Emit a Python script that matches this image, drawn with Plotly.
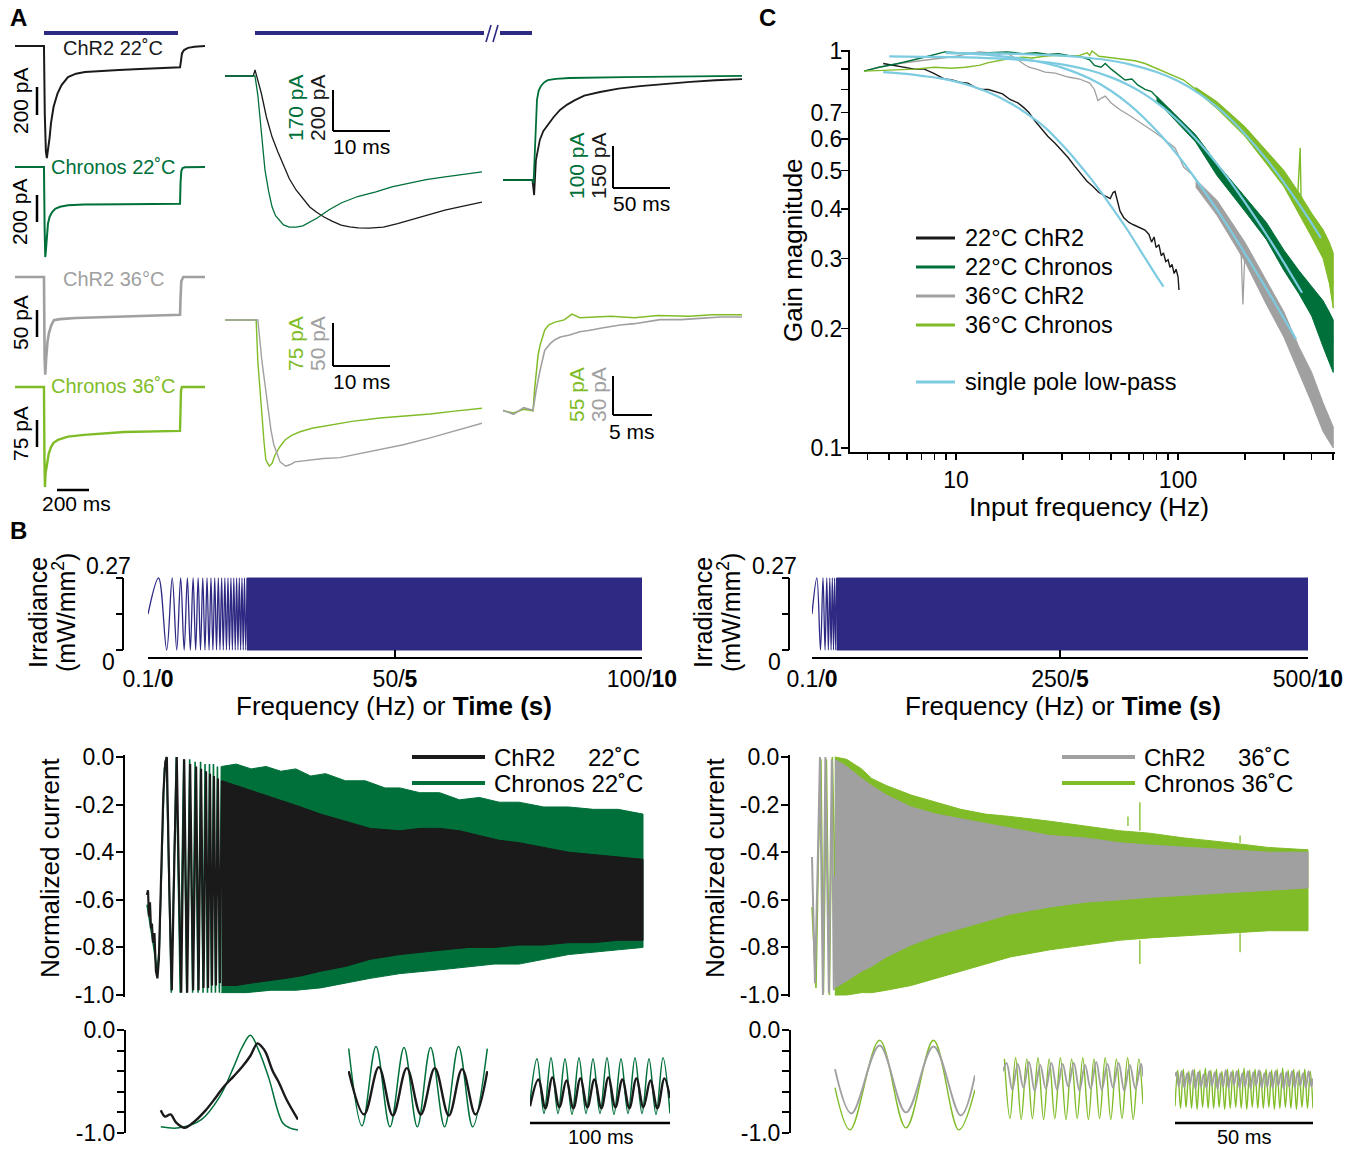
import plotly.graph_objects as go

W, H = 1360, 1149
FONT = "Liberation Sans, Arial, Helvetica, sans-serif"
BLUE, BLACK, DGREEN, GRAY, LGREEN, CYAN = "#2E2A84", "#1A1A1A", "#00703A", "#A0A0A0", "#80BC28", "#7CCBE0"

# ======================= DATA =======================
# ---- Panel A, whole light pulse (time ms, current pA) ----
A_chr2_22 = [(-181, 0), (0, 0), (5, -500), (12, -780), (18, -830), (25, -780), (35, -680), (44, -570), (60, -450),
             (85, -350), (110, -290), (150, -230), (200, -205), (256, -193), (350, -185), (468, -178), (600, -170),
             (750, -162), (850, -158), (856, -110), (862, -55), (875, -30), (900, -14), (940, -5), (1006, 0)]
A_chronos_22 = [(-181, 0), (0, 0), (4, -450), (8, -667), (12, -620), (18, -500), (25, -420), (35, -370), (50, -335),
                (70, -310), (100, -295), (150, -283), (250, -277), (500, -275), (850, -272), (853, -120), (858, -30),
                (866, -8), (880, -2), (1006, 0)]
A_chr2_36 = [(-181, 0), (0, 0), (4, -150), (8, -181), (14, -150), (22, -120), (31, -104), (45, -90), (62, -80),
             (100, -78), (200, -76), (400, -74), (600, -72), (850, -70), (853, -40), (858, -8), (870, 0), (1006, 0)]
A_chronos_36 = [(-181, 0), (0, 0), (3, -200), (6, -278), (10, -240), (19, -211), (30, -185), (44, -167), (60, -155),
                (87, -147), (150, -138), (250, -133), (500, -125), (850, -122), (852, -60), (856, -10), (862, 0), (1006, 0)]
# ---- Panel A, onset (ms, pA) ----
A_on_chr2_22 = [(-5.26, 0), (-0.3, 0), (0, 30), (0.3, 0), (1.1, -83), (2, -200), (3, -298), (4, -370), (4.8, -424),
                (6, -500), (7.2, -556), (8.4, -600), (9.6, -639), (10.8, -665), (12.1, -688), (13.5, -708),
                (15.1, -727), (16.6, -736), (18.1, -741), (20, -742), (22.5, -737), (25, -720), (27.2, -702),
                (30, -680), (33.3, -654), (36.5, -635), (39.8, -615)]
A_on_chronos_22 = [(-5.26, 0), (0, 0), (0.5, -80), (0.9, -183), (1.3, -290), (1.75, -390), (2.4, -480), (3, -544),
                   (3.6, -580), (4.2, -598), (5, -618), (6, -627), (7.2, -627), (8.4, -622), (9.6, -606), (10.9, -589),
                   (13, -555), (15.1, -527), (18, -500), (21.2, -481), (24, -460), (27.2, -444), (30, -430),
                   (33.3, -419), (36.5, -408), (39.8, -398)]
A_on_chronos_36 = [(-5.26, 0), (0, 0), (0.2, 0), (0.5, -73), (0.9, -130), (1.2, -175), (1.6, -215), (1.9, -244),
                   (2.5, -255), (3, -250), (3.5, -236), (4.3, -222), (5.3, -209), (6.5, -201), (7.9, -195), (10, -189),
                   (13.2, -183), (17, -177), (21.9, -171), (26, -168), (30.7, -164), (35, -159), (39.8, -154)]
A_on_chr2_36 = [(-5.26, 0), (0, 0), (0.5, 0), (1.2, -47), (1.8, -78), (2.3, -105), (2.8, -128), (3.3, -145),
                (3.9, -157), (4.4, -165), (5.4, -170), (6.2, -168), (7, -165), (8.5, -164), (9.6, -163), (12, -161),
                (14.9, -160), (18, -156), (21.9, -151), (26, -145), (30.7, -137), (35, -129), (39.8, -120)]
# ---- Panel A, offset (ms, pA) ----
A_off_chr2_22 = [(-26.3, -364), (-0.5, -364), (0.5, -400), (1, -418), (2.6, -293), (6, -221), (9, -190), (13, -168),
                 (18, -140), (23.7, -114), (30, -95), (36.8, -79), (45, -63), (58.8, -50), (75, -38), (94, -29),
                 (115, -21), (138, -14), (160, -8), (183.3, -4)]
A_off_chronos_22 = [(-26.3, -243), (-0.5, -243), (0.5, -250), (1.2, -200), (1.75, -148), (2.6, -95), (3.5, -52),
                    (5, -30), (7, -19), (10, -10), (13, -5), (20, -2), (32, 0), (80, 2), (183.3, 5)]
A_off_chronos_36 = [(-3.85, -129), (-2.5, -132), (-1.2, -127), (0, -129), (0.2, -100), (0.4, -73), (0.65, -52),
                    (0.9, -39), (1.2, -28), (1.5, -18), (2, -11), (2.8, -7), (4, -4), (5, 4), (6, -1), (8, 0), (10, 1),
                    (13, -1), (16, 2), (20, 1), (23, 3), (26.8, 3)]
A_off_chr2_36 = [(-3.85, -70), (-2.5, -73), (-1.2, -68), (0, -70), (0.4, -55), (0.9, -40), (1.5, -25), (2.2, -20),
                 (2.8, -17), (3.5, -15), (4.7, -13.5), (6, -11), (7.3, -10), (9, -8), (11.2, -6), (13, -5),
                 (16.3, -2), (19, -2), (21.4, -1), (24, 0), (26.8, 0)]

# ---- Panel B, stimulus (time s, irradiance mW/mm2) ----
IRR_MAX = 0.27
IRR_MID = 0.135
irr_L_ext_t = [0.214, 0.378, 0.490, 0.582, 0.661, 0.732, 0.797, 0.857, 0.913, 0.965, 1.015, 1.063, 1.109, 1.153,
               1.195, 1.236, 1.275, 1.314, 1.351, 1.387, 1.423, 1.457, 1.491, 1.524, 1.556, 1.588, 1.619, 1.649,
               1.679, 1.708, 1.737, 1.766, 1.794, 1.821, 1.848, 1.875, 1.902, 1.928, 1.953, 1.979, 2.004]
irr_L_dense = [2.004, 10.0]
irr_R_ext_t = [0.098, 0.171, 0.222, 0.263, 0.298, 0.330, 0.359, 0.385, 0.410, 0.434, 0.456, 0.478, 0.498]
irr_R_dense = [0.498, 10.0]

# ---- Panel B, normalized current, 22 C (time s, normalized current) ----
chr2_22_early = [(0.00, -0.58), (0.02, -0.56), (0.04, -0.67), (0.06, -0.61), (0.08, -0.72), (0.10, -0.70),
                 (0.12, -0.78), (0.15, -0.74), (0.18, -0.90), (0.21, -0.93), (0.24, -0.85), (0.28, -0.55),
                 (0.33, -0.15), (0.37, -0.02), (0.40, 0.0), (0.45, -0.55), (0.50, -0.98), (0.55, -0.45),
                 (0.60, 0.0), (0.65, -0.60), (0.69, -0.99), (0.75, -0.01), (0.81, -0.99), (0.87, -0.03),
                 (0.93, -0.98), (0.99, -0.04), (1.04, -0.98), (1.09, -0.05), (1.14, -0.97), (1.19, -0.06),
                 (1.23, -0.97), (1.27, -0.07), (1.31, -0.96), (1.35, -0.08), (1.39, -0.96), (1.43, -0.09),
                 (1.47, -0.95), (1.51, -0.10)]
chronos_22_early = [(0.00, -0.62), (0.05, -0.68), (0.10, -0.75), (0.15, -0.82), (0.20, -0.90), (0.25, -0.80),
                    (0.30, -0.40), (0.35, -0.05), (0.39, 0.0), (0.45, -0.60), (0.49, -0.99), (0.55, -0.40),
                    (0.59, 0.0), (0.67, -0.99), (0.74, -0.01), (0.80, -0.99), (0.86, -0.01), (0.92, -0.99),
                    (0.97, -0.02), (1.03, -0.99), (1.08, -0.02), (1.13, -0.99), (1.17, -0.03), (1.22, -0.99),
                    (1.26, -0.03), (1.30, -0.99), (1.34, -0.03), (1.38, -0.99), (1.42, -0.04), (1.46, -0.99),
                    (1.50, -0.04)]
chronos_22_hi = [(1.50, -0.04), (1.8, -0.03), (2.1, -0.05), (2.4, -0.04), (2.7, -0.06), (3.0, -0.05), (3.3, -0.08),
                 (3.6, -0.07), (4.0, -0.10), (4.4, -0.10), (4.8, -0.13), (5.1, -0.13), (5.5, -0.15), (5.9, -0.15),
                 (6.3, -0.18), (6.7, -0.17), (7.1, -0.19), (7.5, -0.19), (8.0, -0.21), (8.5, -0.21), (9.0, -0.22),
                 (9.5, -0.22), (10.0, -0.24)]
chronos_22_lo = [(1.50, -0.99), (2.0, -0.99), (2.5, -0.98), (3.0, -0.98), (3.5, -0.97), (4.0, -0.95),
                 (4.5, -0.93), (5.1, -0.91), (5.6, -0.90), (6.1, -0.89), (6.6, -0.88), (7.0, -0.87), (7.5, -0.87),
                 (8.0, -0.85), (8.5, -0.83), (9.0, -0.82), (9.5, -0.81), (10.0, -0.80)]
chr2_22_hi = [(1.51, -0.10), (1.8, -0.12), (2.1, -0.14), (2.4, -0.16), (2.8, -0.19), (3.1, -0.21), (3.5, -0.24),
              (4.0, -0.27), (4.5, -0.30), (5.1, -0.31), (5.5, -0.30), (5.9, -0.30), (6.3, -0.31), (6.7, -0.33),
              (7.1, -0.35), (7.5, -0.36), (8.0, -0.38), (8.5, -0.40), (9.0, -0.41), (9.5, -0.42), (10.0, -0.43)]
chr2_22_lo = [(1.51, -0.96), (1.8, -0.96), (2.1, -0.95), (2.4, -0.94), (2.8, -0.93), (3.1, -0.92), (3.5, -0.90),
              (4.0, -0.88), (4.5, -0.85), (5.1, -0.83), (5.5, -0.82), (6.0, -0.81), (6.5, -0.80), (7.0, -0.80),
              (7.5, -0.79), (8.0, -0.79), (8.5, -0.78), (9.0, -0.78), (9.5, -0.77), (10.0, -0.77)]

# ---- Panel B, normalized current, 36 C ----
chr2_36_early = [(0.0, -0.42), (0.03, -0.75), (0.06, -0.95), (0.11, -0.50), (0.16, 0.0), (0.22, -1.0), (0.27, 0.0),
                 (0.34, -0.99), (0.40, -0.01), (0.44, -0.98), (0.46, -0.50)]
chronos_36_early = [(0.0, -0.63), (0.04, -0.80), (0.08, -0.97), (0.13, -0.40), (0.18, -0.01), (0.23, -0.99),
                    (0.29, -0.01), (0.35, -1.0), (0.41, 0.0), (0.46, -0.50)]
chronos_36_hi = [(0.46, 0.0), (0.7, -0.01), (1.0, -0.05), (1.2, -0.09), (1.5, -0.12), (2.0, -0.16), (2.5, -0.19),
                 (3.0, -0.22), (3.5, -0.24), (4.0, -0.25), (4.8, -0.27), (5.5, -0.29), (6.2, -0.31), (6.8, -0.32),
                 (7.5, -0.34), (8.4, -0.36), (9.2, -0.38), (10.0, -0.39)]
chronos_36_lo = [(0.46, -1.0), (0.7, -1.0), (1.0, -0.99), (1.2, -0.99), (1.5, -0.98), (2.0, -0.96), (2.5, -0.93),
                 (3.0, -0.90), (3.5, -0.87), (4.0, -0.84), (4.8, -0.81), (5.5, -0.79), (6.2, -0.77), (6.8, -0.76),
                 (7.5, -0.75), (8.4, -0.74), (9.2, -0.73), (10.0, -0.73)]
chr2_36_hi = [(0.46, -0.01), (0.7, -0.04), (1.0, -0.09), (1.2, -0.12), (1.5, -0.16), (2.0, -0.21), (2.5, -0.24),
              (3.0, -0.26), (3.5, -0.28), (4.0, -0.30), (4.8, -0.33), (5.5, -0.34), (6.2, -0.36), (6.8, -0.37),
              (7.5, -0.38), (8.4, -0.39), (9.2, -0.40), (10.0, -0.40)]
chr2_36_lo = [(0.46, -0.97), (0.7, -0.94), (1.0, -0.90), (1.2, -0.88), (1.5, -0.84), (2.0, -0.79), (2.5, -0.75),
              (3.0, -0.72), (3.5, -0.69), (4.0, -0.66), (4.8, -0.63), (5.5, -0.61), (6.2, -0.60), (6.8, -0.59),
              (7.5, -0.58), (8.4, -0.57), (9.2, -0.56), (10.0, -0.55)]
chronos_36_spikes = [(6.37, -0.29, -0.25), (6.61, -0.31, -0.19), (8.63, -0.36, -0.33), (6.61, -0.77, -0.87),
                     (8.63, -0.74, -0.82)]

# ---- Panel B, close-ups (time ms, normalized current) ----
L1_chronos = [(2, -0.94), (15, -0.95), (31, -0.87), (44, -0.65), (54, -0.36), (60, -0.17), (66, -0.05), (72, -0.20),
              (79, -0.46), (89, -0.90), (94, -0.95), (100, -0.97)]
L1_chr2 = [(2, -0.78), (5, -0.84), (9, -0.82), (13, -0.90), (19, -0.95), (25, -0.90), (34, -0.78), (41, -0.66),
           (47, -0.55), (54, -0.45), (60, -0.36), (66, -0.25), (71, -0.13), (74, -0.16), (77, -0.22), (82, -0.40),
           (86, -0.50), (92, -0.68), (100, -0.87)]
L2_chronos = [(0.5, -0.18), (10, -0.93), (20, -0.16), (30, -0.94), (40, -0.17), (49.5, -0.94), (59, -0.17),
              (69, -0.94), (79, -0.16), (89, -0.94), (99.5, -0.18)]
L2_chr2 = [(0.5, -0.40), (11.5, -0.82), (22, -0.36), (32, -0.83), (42, -0.37), (52, -0.82), (62, -0.37),
           (72, -0.83), (81.5, -0.38), (91, -0.82), (99.5, -0.40)]
L3_chronos = [(0, -0.70), (5, -0.28), (10, -0.81), (15, -0.27), (20, -0.81), (25, -0.28), (30, -0.82), (35, -0.27),
              (40, -0.81), (45, -0.28), (50, -0.81), (55, -0.27), (60, -0.82), (65, -0.28), (70, -0.81), (75, -0.27),
              (80, -0.81), (85, -0.28), (90, -0.82), (95, -0.27), (100, -0.81)]
L3_chr2 = [(0, -0.74), (6, -0.48), (11, -0.76), (16, -0.46), (21, -0.75), (26, -0.49), (31, -0.76), (36, -0.47),
           (41, -0.75), (46, -0.48), (51, -0.76), (56, -0.46), (61, -0.75), (66, -0.48), (71, -0.76), (76, -0.47),
           (81, -0.75), (86, -0.49), (91, -0.76), (96, -0.47), (100, -0.66)]
R1_chronos = [(0.7, -0.56), (6, -0.97), (16.4, -0.10), (25.7, -0.95), (35.4, -0.10), (44.3, -0.97), (50, -0.58)]
R1_chr2 = [(0.7, -0.38), (6.5, -0.81), (16.4, -0.15), (25.7, -0.80), (35.4, -0.16), (45, -0.83), (50, -0.44)]
R2_chronos = [(0.5, -0.28), (2.5, -0.86), (4.5, -0.27), (6.5, -0.87), (8.5, -0.28), (10.5, -0.86), (12.5, -0.27),
              (14.5, -0.87), (16.5, -0.28), (18.5, -0.86), (20.5, -0.27), (22.5, -0.87), (24.5, -0.28), (26.5, -0.86),
              (28.5, -0.27), (30.5, -0.87), (32.5, -0.28), (34.5, -0.86), (36.5, -0.27), (38.5, -0.87), (40.5, -0.28),
              (42.5, -0.86), (44.5, -0.27), (46.5, -0.87), (48.5, -0.28), (50, -0.72)]
R2_chr2 = [(0, -0.40), (1.3, -0.32), (3.3, -0.58), (5.3, -0.33), (7.3, -0.56), (9.3, -0.31), (11.3, -0.59),
           (13.3, -0.34), (15.3, -0.57), (17.3, -0.32), (19.3, -0.58), (21.3, -0.33), (23.3, -0.55), (25.3, -0.32),
           (27.3, -0.59), (29.3, -0.34), (31.3, -0.57), (33.3, -0.31), (35.3, -0.58), (37.3, -0.33), (39.3, -0.56),
           (41.3, -0.32), (43.3, -0.59), (45.3, -0.34), (47.3, -0.57), (49.3, -0.33), (50, -0.45)]
R3_chronos = [(0, -0.74), (1, -0.39), (2, -0.76), (3, -0.38), (4, -0.75), (5, -0.40), (6, -0.76), (7, -0.38),
              (8, -0.77), (9, -0.39), (10, -0.75), (11, -0.37), (12, -0.76), (13, -0.39), (14, -0.76), (15, -0.38),
              (16, -0.75), (17, -0.40), (18, -0.77), (19, -0.38), (20, -0.76), (21, -0.39), (22, -0.75), (23, -0.38),
              (24, -0.76), (25, -0.37), (26, -0.77), (27, -0.39), (28, -0.75), (29, -0.38), (30, -0.76), (31, -0.40),
              (32, -0.76), (33, -0.38), (34, -0.75), (35, -0.39), (36, -0.77), (37, -0.38), (38, -0.76), (39, -0.37),
              (40, -0.75), (41, -0.39), (42, -0.76), (43, -0.38), (44, -0.77), (45, -0.39), (46, -0.75), (47, -0.38),
              (48, -0.76), (49, -0.40), (50, -0.76)]
R3_chr2 = [(0, -0.45), (0.5, -0.41), (1.4, -0.55), (2.4, -0.40), (3.4, -0.56), (4.4, -0.42), (5.4, -0.53),
           (6.4, -0.39), (7.4, -0.57), (8.4, -0.41), (9.4, -0.55), (10.4, -0.43), (11.4, -0.56), (12.4, -0.40),
           (13.4, -0.54), (14.4, -0.41), (15.4, -0.57), (16.4, -0.42), (17.4, -0.55), (18.4, -0.39), (19.4, -0.56),
           (20.4, -0.41), (21.4, -0.53), (22.4, -0.40), (23.4, -0.56), (24.4, -0.42), (25.4, -0.55), (26.4, -0.40),
           (27.4, -0.57), (28.4, -0.41), (29.4, -0.54), (30.4, -0.39), (31.4, -0.56), (32.4, -0.42), (33.4, -0.55),
           (34.4, -0.41), (35.4, -0.56), (36.4, -0.40), (37.4, -0.54), (38.4, -0.42), (39.4, -0.57), (40.4, -0.41),
           (41.4, -0.55), (42.4, -0.40), (43.4, -0.56), (44.4, -0.41), (45.4, -0.54), (46.4, -0.42), (47.4, -0.56),
           (48.4, -0.40), (49.4, -0.55), (50, -0.47)]

# ---- Panel C, gain (frequency Hz, gain) ----
C_chr2_22 = [(4.7, 0.93), (5.3, 0.92), (5.9, 0.91), (6.5, 0.90), (7.2, 0.90), (7.9, 0.88), (8.9, 0.85), (9.6, 0.845),
             (10.4, 0.835), (11.3, 0.83), (12.2, 0.81), (13.0, 0.80), (14.0, 0.80), (15.0, 0.79), (16.2, 0.78),
             (17.5, 0.755), (19.0, 0.74), (20.2, 0.72), (21.3, 0.70), (22.5, 0.67), (24.0, 0.64), (25.9, 0.61),
             (28.0, 0.585), (30.0, 0.56), (31.9, 0.54), (34.0, 0.515), (36.5, 0.49), (38.9, 0.47), (41.5, 0.455),
             (44.0, 0.44), (47.4, 0.43), (49.5, 0.425), (51.0, 0.44), (52.0, 0.443), (53.0, 0.425), (54.8, 0.395),
             (57.0, 0.38), (60.1, 0.37), (63.0, 0.365), (66.0, 0.36), (69.0, 0.357), (71.0, 0.354), (74.0, 0.345),
             (76.0, 0.33), (78.0, 0.34), (79.6, 0.32), (82.0, 0.325), (84.0, 0.305), (86.0, 0.31), (88.0, 0.295),
             (90.2, 0.298), (92.0, 0.285), (94.0, 0.29), (96.0, 0.275), (98.0, 0.282), (100.0, 0.27), (101.0, 0.25)]
C_chronos_22 = [(3.85, 0.89), (4.5, 0.91), (5.5, 0.93), (6.5, 0.95), (7.5, 0.97), (8.9, 0.995), (10, 0.99),
                (12, 0.985), (14, 0.99), (17, 0.995), (20, 0.985), (23, 0.99), (26, 0.98), (29, 0.985), (32, 0.975),
                (36, 0.97), (40, 0.95), (42, 0.92), (45, 0.91), (47, 0.93), (50, 0.90), (54, 0.87), (57.7, 0.845),
                (62, 0.85), (66, 0.82), (71, 0.80), (76, 0.79), (81, 0.76), (86.5, 0.72), (92, 0.71), (98, 0.68),
                (106, 0.645), (114, 0.62), (120, 0.60), (128, 0.565), (136, 0.545), (145, 0.52), (158, 0.49),
                (170, 0.47), (182, 0.45), (192, 0.44), (205, 0.41), (220, 0.39), (234, 0.375), (250, 0.355),
                (265, 0.34), (284, 0.32), (300, 0.30), (320, 0.285), (345, 0.265), (370, 0.25), (400, 0.235),
                (425, 0.22), (450, 0.205), (475, 0.195), (500, 0.185)]
C_chr2_36 = [(3.85, 0.89), (4.5, 0.91), (5.5, 0.93), (6.5, 0.94), (7.5, 0.95), (8.9, 0.96), (10, 0.97), (11, 0.98),
             (12.7, 0.995), (14, 0.99), (15, 0.975), (16.8, 0.99), (18.5, 0.96), (20, 0.93), (21.3, 0.91), (23, 0.90),
             (25.2, 0.885), (28, 0.88), (32, 0.86), (36, 0.85), (40, 0.83), (42, 0.80), (43.6, 0.75), (45, 0.76),
             (47, 0.77), (50, 0.74), (55, 0.71), (60, 0.69), (65, 0.67), (72, 0.645), (80, 0.62), (88, 0.595),
             (97, 0.57), (106, 0.51), (115, 0.49), (128, 0.45), (140, 0.43), (158, 0.39), (175, 0.36), (192, 0.32),
             (196, 0.23), (200, 0.31), (210, 0.30), (234, 0.255), (255, 0.24), (284, 0.21), (310, 0.19),
             (345, 0.166), (380, 0.145), (425, 0.12), (460, 0.11), (500, 0.103)]
C_chronos_36 = [(3.85, 0.89), (5, 0.895), (6.5, 0.90), (8, 0.91), (9.5, 0.905), (11, 0.91), (12.7, 0.92), (14, 0.935),
                (16, 0.95), (18, 0.96), (20, 0.965), (22, 0.96), (25, 0.97), (28, 0.975), (32, 0.97), (36, 0.975),
                (39, 0.99), (40, 0.975), (41, 1.0), (44, 0.97), (47, 0.966), (52, 0.96), (58, 0.95), (64, 0.945),
                (71, 0.93), (78, 0.91), (86, 0.89), (95, 0.87), (106, 0.845), (117, 0.81), (128, 0.78), (142, 0.75),
                (158, 0.71), (175, 0.67), (192, 0.63), (210, 0.60), (234, 0.57), (255, 0.53), (284, 0.50),
                (310, 0.46), (345, 0.42), (355, 0.57), (358, 0.43), (380, 0.385), (425, 0.348), (460, 0.32),
                (480, 0.29), (500, 0.26)]
C_band_chronos_22 = [(80, 0.77, 0.75), (120, 0.615, 0.59), (150, 0.52, 0.485), (200, 0.43, 0.395), (250, 0.37, 0.335),
                     (300, 0.315, 0.28), (350, 0.28, 0.245), (400, 0.255, 0.215), (450, 0.235, 0.18),
                     (480, 0.22, 0.165), (500, 0.21, 0.155)]
C_band_chr2_36 = [(120, 0.475, 0.455), (150, 0.42, 0.385), (200, 0.33, 0.295), (250, 0.265, 0.23), (300, 0.22, 0.19),
                  (350, 0.18, 0.155), (400, 0.155, 0.13), (450, 0.13, 0.11), (500, 0.113, 0.10)]
C_band_chronos_36 = [(120, 0.81, 0.795), (150, 0.745, 0.715), (200, 0.645, 0.61), (250, 0.56, 0.52), (300, 0.50, 0.455),
                     (350, 0.44, 0.39), (400, 0.39, 0.34), (450, 0.355, 0.30), (480, 0.33, 0.26), (500, 0.31, 0.225)]
fit_chr2_22 = [(4.7, 0.885), (6, 0.876), (7, 0.866), (8.5, 0.853), (10, 0.837), (12, 0.813), (15, 0.774), (18, 0.733),
               (20, 0.706), (25, 0.644), (30, 0.581), (35, 0.527), (40, 0.481), (45, 0.441), (50, 0.406),
               (55, 0.376), (60, 0.35), (70, 0.305), (80, 0.271), (86, 0.255)]
fit_chronos_22 = [(5, 0.969), (7, 0.967), (10, 0.965), (15, 0.958), (20, 0.949), (25, 0.938), (30, 0.925),
                  (40, 0.894), (50, 0.858), (60, 0.820), (70, 0.781), (85, 0.723), (100, 0.668), (120, 0.602),
                  (150, 0.519), (180, 0.453), (200, 0.416), (250, 0.345), (300, 0.293), (362, 0.246)]
fit_chr2_36 = [(9, 0.991), (12, 0.983), (15, 0.974), (20, 0.956), (25, 0.933), (30, 0.908), (40, 0.852), (50, 0.793),
               (60, 0.735), (70, 0.680), (85, 0.607), (100, 0.545), (120, 0.476), (150, 0.398), (180, 0.340),
               (200, 0.309), (250, 0.252), (300, 0.212), (340, 0.188)]
fit_chronos_36 = [(9, 0.988), (15, 0.986), (20, 0.982), (30, 0.973), (40, 0.960), (50, 0.945), (60, 0.927),
                  (80, 0.885), (100, 0.840), (125, 0.780), (150, 0.722), (175, 0.668), (200, 0.618), (250, 0.534),
                  (300, 0.466), (350, 0.412), (400, 0.368), (440, 0.338)]
C_xticks = [4, 5, 6, 7, 8, 9, 10, 20, 30, 40, 50, 60, 70, 80, 90, 100, 200, 300, 400, 500]
C_xlabels = {10: "10", 100: "100"}
C_yticks = [0.1, 0.2, 0.3, 0.4, 0.5, 0.6, 0.7, 0.8, 0.9, 1.0]
C_ylabels = ["0.1", "0.2", "0.3", "0.4", "0.5", "0.6", "0.7", " ", " ", "1"]
C_legend = [("22°C ChR2", BLACK), ("22°C Chronos", DGREEN), ("36°C ChR2", GRAY), ("36°C Chronos", LGREEN)]
NORM_TICKS = [0.0, -0.2, -0.4, -0.6, -0.8, -1.0]
NORM_LABELS = ["0.0", "-0.2", "-0.4", "-0.6", "-0.8", "-1.0"]
INSET_LABELS = ["0.0", " ", " ", " ", " ", "-1.0"]
IRR_L_LABELS = ["0.1/<b>0</b>", "50/<b>5</b>", "100/<b>10</b>"]
IRR_R_LABELS = ["0.1/<b>0</b>", "250/<b>5</b>", "500/<b>10</b>"]
IRR_TICKS_S = [0, 5, 10]

# ======================= FIGURE =======================
fig = go.Figure()
L = {}
shapes, anns = [], []
cnt = [0]


def pxx(p):
    return p / W


def pxy(p):
    return 1 - p / H


TICKFONT = dict(family=FONT, size=23, color="black")
AX = dict(visible=True, showline=True, linecolor="black", linewidth=2, ticks="outside", tickcolor="black",
          tickwidth=2, ticklen=7, tickfont=TICKFONT, showgrid=False, zeroline=False, automargin=False, tickangle=0)


def axpair(x0, x1, ytop, ybot, xr, yr, xkw=None, ykw=None):
    cnt[0] += 1
    s = "" if cnt[0] == 1 else str(cnt[0])
    xa = dict(domain=[x0 / W, x1 / W], range=xr, anchor="y" + s, visible=False, showgrid=False, zeroline=False,
              automargin=False)
    ya = dict(domain=[1 - ybot / H, 1 - ytop / H], range=yr, anchor="x" + s, visible=False, showgrid=False,
              zeroline=False, automargin=False)
    if xkw:
        xa.update(xkw)
    if ykw:
        ya.update(ykw)
    L["xaxis" + s] = xa
    L["yaxis" + s] = ya
    return "x" + s, "y" + s


def line(ax, pts, color, width, shape="linear"):
    xs = [p[0] for p in pts]
    ys = [p[1] for p in pts]
    fig.add_trace(go.Scatter(x=xs, y=ys, xaxis=ax[0], yaxis=ax[1], mode="lines",
                             line=dict(color=color, width=width, shape=shape), showlegend=False, hoverinfo="skip"))


def band(ax, hi, lo, color, width=1):
    xs = [p[0] for p in hi] + [p[0] for p in lo][::-1]
    ys = [p[1] for p in hi] + [p[1] for p in lo][::-1]
    fig.add_trace(go.Scatter(x=xs, y=ys, xaxis=ax[0], yaxis=ax[1], mode="lines", fill="toself", fillcolor=color,
                             line=dict(color=color, width=width), showlegend=False, hoverinfo="skip"))


def seg(x0, y0, x1, y1, color="black", width=2):
    shapes.append(dict(type="line", xref="paper", yref="paper", x0=pxx(x0), y0=pxy(y0), x1=pxx(x1), y1=pxy(y1),
                       line=dict(color=color, width=width)))


def txt(x, y, s, size=18, color="black", angle=0, xanchor="center", yanchor="middle"):
    anns.append(dict(xref="paper", yref="paper", x=pxx(x), y=pxy(y), text=s, showarrow=False, textangle=angle,
                     xanchor=xanchor, yanchor=yanchor, font=dict(family=FONT, size=size, color=color)))


# ---------------- Panel A ----------------
XA = [-181, 1006]
axA1 = axpair(15, 205, 35, 165, XA, [-881.5, 81.5])
axA2 = axpair(15, 205, 150, 270, XA, [-763, 126])
axA3 = axpair(15, 205, 260, 385, XA, [-200, 31.5])
axA4 = axpair(15, 205, 370, 495, XA, [-300, 47.2])
line(axA1, A_chr2_22, BLACK, 2)
line(axA2, A_chronos_22, DGREEN, 2)
line(axA3, A_chr2_36, GRAY, 2.6)
line(axA4, A_chronos_36, LGREEN, 2.4)

XM = [-5.26, 39.8]
axM1k = axpair(225, 482, 60, 240, XM, [-800, 78])
axM1g = axpair(225, 482, 60, 240, XM, [-680.5, 66.4])
line(axM1g, A_on_chronos_22, DGREEN, 1.3)
line(axM1k, A_on_chr2_22, BLACK, 1.3)
axM2g = axpair(225, 482, 300, 475, XM, [-270.5, 34.9])
axM2k = axpair(225, 482, 300, 475, XM, [-180.2, 23.3])
line(axM2k, A_on_chr2_36, GRAY, 1.4)
line(axM2g, A_on_chronos_36, LGREEN, 1.4)

axR1k = axpair(503, 742, 60, 200, [-26.3, 183.3], [-435.7, 64.3])
axR1g = axpair(503, 742, 60, 200, [-26.3, 183.3], [-290.5, 42.9])
line(axR1g, A_off_chronos_22, DGREEN, 1.8)
line(axR1k, A_off_chr2_22, BLACK, 1.8)
axR2g = axpair(503, 742, 300, 425, [-3.85, 26.8], [-148.6, 23.4])
axR2k = axpair(503, 742, 300, 425, [-3.85, 26.8], [-81, 12.75])
line(axR2k, A_off_chr2_36, GRAY, 1.6)
line(axR2g, A_off_chronos_36, LGREEN, 1.5)

# light bars
seg(44, 33, 178, 33, BLUE, 4)
seg(255, 33, 484, 33, BLUE, 4)
seg(500, 33, 532, 33, BLUE, 4)
seg(486, 42, 491, 25, BLUE, 1.6)
seg(493, 42, 498, 25, BLUE, 1.6)

# scale bars panel A
for (y0, y1) in [(87, 115), (195, 222), (310, 337), (420, 447)]:
    seg(37, y0, 37, y1, "black", 2.5)
seg(57, 490, 89, 490, "black", 2.5)
for (yt, yb, xv, xh) in [(90, 131, 333, 390), (323, 366, 333, 390), (146, 188, 613, 670), (376, 415, 613, 652)]:
    seg(xv, yt, xv, yb, "black", 2)
    seg(xv, yb, xh, yb, "black", 2)

txt(18, 18, "<b>A</b>", 24)
txt(113, 48, "ChR2 22˚C", 20, BLACK)
txt(113, 167, "Chronos 22˚C", 20, DGREEN)
txt(113, 279, "ChR2 36°C", 20, GRAY)
txt(113, 386, "Chronos 36˚C", 20, LGREEN)
txt(20, 101, "200 pA", 21, angle=-90)
txt(20, 212, "200 pA", 21, angle=-90)
txt(20, 323, "50 pA", 21, angle=-90)
txt(20, 434, "75 pA", 21, angle=-90)
txt(76, 503, "200 ms", 21)
txt(295, 108, "170 pA", 21, DGREEN, angle=-90)
txt(317, 108, "200 pA", 21, BLACK, angle=-90)
txt(361, 147, "10 ms", 21)
txt(295, 344, "75 pA", 21, LGREEN, angle=-90)
txt(317, 344, "50 pA", 21, GRAY, angle=-90)
txt(361, 382, "10 ms", 21)
txt(576, 166, "100 pA", 21, DGREEN, angle=-90)
txt(598, 166, "150 pA", 21, BLACK, angle=-90)
txt(641, 203, "50 ms", 21)
txt(576, 395, "55 pA", 21, LGREEN, angle=-90)
txt(598, 395, "30 pA", 21, GRAY, angle=-90)
txt(632, 431, "5 ms", 21)

# ---------------- Panel C ----------------
axC = axpair(850, 1335, 50, 452, [0.5225, 2.707], [-1.0101, 0.0025],
             xkw=dict(AX, type="log", tickvals=C_xticks, ticktext=[C_xlabels.get(v, " ") for v in C_xticks],
                      ticklen=6, tickwidth=1.5),
             ykw=dict(AX, type="log", tickvals=C_yticks, ticktext=C_ylabels, tickwidth=1.5,
                      ticklabelstandoff=-6))
line(axC, C_chr2_36, GRAY, 1.3)
band(axC, [(p[0], p[1]) for p in C_band_chr2_36], [(p[0], p[2]) for p in C_band_chr2_36], GRAY)
line(axC, C_chr2_22, BLACK, 1.4)
line(axC, C_chronos_22, DGREEN, 1.4)
band(axC, [(p[0], p[1]) for p in C_band_chronos_22], [(p[0], p[2]) for p in C_band_chronos_22], DGREEN)
line(axC, C_chronos_36, LGREEN, 1.4)
band(axC, [(p[0], p[1]) for p in C_band_chronos_36], [(p[0], p[2]) for p in C_band_chronos_36], LGREEN)
for fit in (fit_chr2_22, fit_chronos_22, fit_chr2_36, fit_chronos_36):
    line(axC, fit, CYAN, 2.2, "spline")

txt(767, 18, "<b>C</b>", 24)
txt(793, 250, "Gain magnitude", 26, angle=-90)
txt(1089, 507, "Input frequency (Hz)", 26.5)
for i, (lab, col) in enumerate(C_legend):
    yy = 238 + 29 * i
    seg(916, yy, 955, yy, col, 3)
    txt(963, yy, lab, 23.5, xanchor="left")
seg(916, 382, 955, 382, CYAN, 3)
txt(963, 382, "single pole low-pass", 23.5, xanchor="left")

# ---------------- Panel B : stimulus ----------------
txt(18, 530, "<b>B</b>", 24)
for side in ("L", "R"):
    if side == "L":
        x0, x1, ypos, ext, dense, labels = 148, 642, 123, irr_L_ext_t, irr_L_dense, IRR_L_LABELS
        xt, xc = 38, 394
    else:
        x0, x1, ypos, ext, dense, labels = 812, 1308, 789, irr_R_ext_t, irr_R_dense, IRR_R_LABELS
        xt, xc = 703, 1063
    ax = axpair(x0, x1, 575, 657, [0, 10], [-0.02625, 0.28125],
                xkw=dict(AX, ticks="inside", tickvals=IRR_TICKS_S, ticktext=labels),
                ykw=dict(AX, showline=False, anchor="free", position=ypos / W,
                         tickvals=[0, IRR_MID, IRR_MAX], showticklabels=False))
    pts = [(0, IRR_MID)] + [(t, IRR_MAX if i % 2 == 0 else 0) for i, t in enumerate(ext)]
    line(ax, pts, BLUE, 1.3, "spline")
    band(ax, [(dense[0], IRR_MAX), (dense[1], IRR_MAX)], [(dense[0], 0), (dense[1], 0)], BLUE)
    seg(ypos, 578, ypos, 650, "black", 2)
    txt(ypos - 15, 566, "0.27", 23)
    txt(ypos - 15, 662, "0", 23)
    txt(xt, 613, "Irradiance", 25, angle=-90)
    txt(xt + 26, 613, "(mW/mm<sup>2</sup>)", 25, angle=-90)
    txt(xc, 706, "Frequency (Hz) or <b>Time (s)</b>", 26)

# ---------------- Panel B : normalized current ----------------
axN1 = axpair(125, 645, 754.6, 997.4, [-0.4435, 10.04], [-1.01, 0.01],
              ykw=dict(AX, tickvals=NORM_TICKS, ticktext=NORM_LABELS, ticklabelstandoff=-3))
band(axN1, chronos_22_hi, chronos_22_lo, DGREEN)
line(axN1, chronos_22_early, DGREEN, 1.6)
band(axN1, chr2_22_hi, chr2_22_lo, BLACK)
line(axN1, chr2_22_early, BLACK, 2.2)

axN2 = axpair(790, 1310, 754.6, 997.4, [-0.4435, 10.04], [-1.01, 0.01],
              ykw=dict(AX, tickvals=NORM_TICKS, ticktext=NORM_LABELS, ticklabelstandoff=-3))
band(axN2, chronos_36_hi, chronos_36_lo, LGREEN)
line(axN2, chronos_36_early, LGREEN, 1.6)
for (t, a, b) in chronos_36_spikes:
    line(axN2, [(t, a), (t, b)], LGREEN, 1.3)
band(axN2, chr2_36_hi, chr2_36_lo, GRAY)
line(axN2, chr2_36_early, GRAY, 2.0)

for x, y in [(50, 868), (715, 868)]:
    txt(x, y, "Normalized current", 26, angle=-90)

# legends B
seg(412, 757, 485, 757, BLACK, 4)
seg(412, 783, 485, 783, DGREEN, 4)
txt(492, 757, "ChR2", 24, xanchor="left")
txt(642, 757, "22˚C", 24, xanchor="right")
txt(492, 783, "Chronos 22˚C", 24, xanchor="left")
seg(1062, 757, 1135, 757, GRAY, 4)
seg(1062, 783, 1135, 783, LGREEN, 4)
txt(1142, 757, "ChR2", 24, xanchor="left")
txt(1292, 757, "36˚C", 24, xanchor="right")
txt(1142, 783, "Chronos 36˚C", 24, xanchor="left")

# ---------------- Panel B : close-ups ----------------
inset_axis_pos = {"L": 125, "R": 790}
for side, specs, xr, gcol, kcol, gw, kw in [
        ("L", [(158, 298, L1_chronos, L1_chr2), (348, 488, L2_chronos, L2_chr2), (530, 670, L3_chronos, L3_chr2)],
         [0, 100], DGREEN, BLACK, 1.5, 2.4),
        ("R", [(833, 975, R1_chronos, R1_chr2), (1003, 1143, R2_chronos, R2_chr2), (1175, 1313, R3_chronos, R3_chr2)],
         [0, 50], LGREEN, GRAY, 1.4, 1.9)]:
    for j, (x0, x1, g, k) in enumerate(specs):
        ykw = None
        if j == 0:
            ykw = dict(AX, anchor="free", position=inset_axis_pos[side] / W, tickvals=NORM_TICKS,
                       ticktext=INSET_LABELS, ticklabelstandoff=-3)
        ax = axpair(x0, x1, 1030, 1133, xr, [-1, 0], ykw=ykw)
        line(ax, g, gcol, gw, "spline")
        line(ax, k, kcol, kw, "spline")

seg(530, 1123, 670, 1123, "black", 2.5)
txt(601, 1137, "100 ms", 20)
seg(1175, 1123, 1313, 1123, "black", 2.5)
txt(1244, 1137, "50 ms", 20)

fig.update_layout(template="none", width=W, height=H, margin=dict(l=0, r=0, t=0, b=0, pad=0),
                  paper_bgcolor="white", plot_bgcolor="rgba(0,0,0,0)", showlegend=False, shapes=shapes,
                  annotations=anns, font=dict(family=FONT, color="black"), **L)
fig.write_html("out.html", config={"displayModeBar": False, "staticPlot": True},
               post_script="document.body.style.margin='0';document.body.style.padding='0';"
                           "document.body.style.overflow='hidden';")
